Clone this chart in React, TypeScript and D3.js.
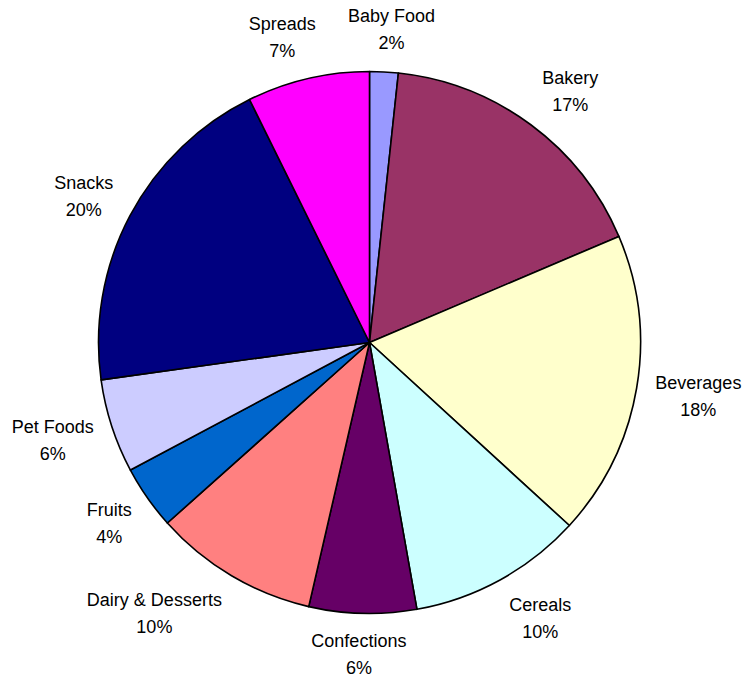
import { FC, useEffect, useRef } from "react";
import * as d3 from "d3";

// slices go clockwise from 12 o'clock
const categories = [
    "Baby Food", "Bakery", "Beverages", "Cereals", "Confections",
    "Dairy & Desserts", "Fruits", "Pet Foods", "Snacks", "Spreads"
];
const shares = [1.7, 16.9, 18.2, 10.4, 6.4, 9.8, 3.8, 5.6, 19.9, 7.3];
const sliceColors = [
    "#9999FF", "#993366", "#FFFFCC", "#CCFFFF", "#660066",
    "#FF8080", "#0066CC", "#CCCCFF", "#000080", "#FF00FF"
];

const W = 744, H = 677;

const App: FC = () => {
    const ref = useRef<SVGSVGElement>(null);

    useEffect(() => {
        const root = d3.select(ref.current);
        root.selectAll("*").remove();

        var cx = 369.5, cy = 342.5, radius = 271;
        var total = d3.sum(shares);

        var pie = d3.pie<number>().sort(null).value(function (d) { return d; });
        var arcs = pie(shares);
        var arc = d3.arc<d3.PieArcDatum<number>>().innerRadius(0).outerRadius(radius);

        var g = root.append("g").attr("transform", "translate(" + cx + "," + cy + ")");

        g.selectAll("path.slice")
            .data(arcs)
            .enter()
            .append("path")
            .attr("class", "slice")
            .attr("d", arc)
            .attr("fill", function (d, i) { return sliceColors[i]; })
            .attr("stroke", "#000")
            .attr("stroke-width", 1.6)
            .attr("stroke-linejoin", "round");

        // labels: box pushed out from a point just outside the rim
        var labelR = radius + 19;
        var boxH = 48;
        arcs.forEach(function (d, i) {
            var mid = (d.startAngle + d.endAngle) / 2;
            var s = Math.sin(mid), c = Math.cos(mid);
            var px = labelR * s, py = -labelR * c;

            var t = g.append("text")
                .attr("font-family", "'Liberation Sans', Arial, sans-serif")
                .attr("font-size", 18)
                .attr("fill", "#000")
                .attr("text-anchor", "middle");
            var l1 = t.append("tspan").text(categories[i]);
            var l2 = t.append("tspan").text(Math.round(shares[i] / total * 100) + "%");
            var w = Math.max(
                (l1.node() as SVGTextContentElement).getComputedTextLength(),
                (l2.node() as SVGTextContentElement).getComputedTextLength()
            );

            var k = Math.max(-1, Math.min(1, s * 2.8));
            var bx = px + k * w / 2;
            var by = py - c * boxH / 2;
            // keep the last line inside the frame
            by = Math.min(by, H - cy - 24);
            l1.attr("x", bx).attr("y", by - 6.5);
            l2.attr("x", bx).attr("y", by + 20.5);
        });
    }, []);

    return (
        <svg ref={ref} width={W} height={H}
            style={{ position: "absolute", left: 0, top: 0, background: "#fff" }} />
    );
};

export default App;
